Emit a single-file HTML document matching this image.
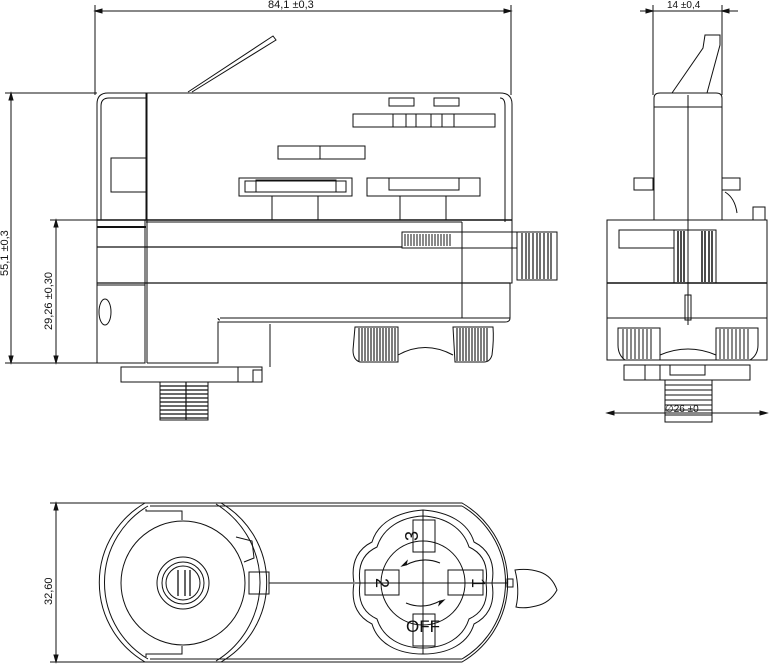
<!DOCTYPE html>
<html><head><meta charset="utf-8"><style>
html,body{margin:0;padding:0;background:#fff}
svg{display:block}
text{font-family:"Liberation Sans Narrow","Liberation Sans",sans-serif;fill:#111}
</style></head><body>
<svg width="770" height="666" viewBox="0 0 770 666" xmlns="http://www.w3.org/2000/svg">
<g fill="none" stroke="#111" stroke-width="1">
<!-- ===== FRONT VIEW ===== -->
<line x1="95" y1="5" x2="95" y2="95"/>
<line x1="511" y1="5" x2="511" y2="95"/>
<line x1="95" y1="11" x2="511" y2="11"/>
<path d="M95 11 l7 -2 v4z M511 11 l-7 -2 v4z" fill="#111"/>
<line x1="5" y1="93" x2="97" y2="93"/>
<line x1="5" y1="363" x2="100" y2="363"/>
<line x1="50" y1="220" x2="100" y2="220"/>
<line x1="11" y1="93" x2="11" y2="363"/>
<line x1="56" y1="220" x2="56" y2="363"/>
<path d="M11 93 l-2 7 h4z M11 363 l-2 -7 h4z M56 220 l-2 7 h4z M56 363 l-2 -7 h4z" fill="#111"/>
<path d="M188 92 L273 36 L276 40 L192 92"/>
<path d="M97 220 V104 Q97 93 108 93 H500 Q512 93 512 104 V225"/>
<path d="M101 220 V106 Q101 98 109 98 H146"/>
<path d="M505 106 V222 M500 98 Q505 98 505 106"/>
<line x1="146" y1="93" x2="146" y2="220"/>
<line x1="147" y1="93" x2="147" y2="220"/>
<rect x="111" y="158" width="35" height="34"/>
<rect x="389" y="98" width="25" height="8"/>
<rect x="434" y="98" width="25" height="8"/>
<rect x="353" y="114" width="142" height="13"/>
<path d="M393 114 V127 M406 114V127 M416 114V127 M431 114V127 M442 114V127 M454 114V127"/>
<rect x="278" y="146" width="87" height="13"/>
<line x1="320" y1="146" x2="320" y2="159"/>
<rect x="239" y="178" width="113" height="18"/>
<rect x="245" y="181" width="101" height="11"/>
<rect x="256" y="180" width="80" height="12"/>
<rect x="367" y="178" width="113" height="18"/>
<rect x="389" y="178" width="70" height="12"/>
<path d="M272 196 V220 M318 196 V220 M400 196 V220 M446 196 V220"/>
<line x1="97" y1="220" x2="512" y2="220" stroke-width="1.5"/>
<line x1="146" y1="222" x2="462" y2="222"/>
<line x1="97" y1="227" x2="146" y2="227" stroke-width="2"/>
<path d="M97 220 V363 H145 V220"/>
<line x1="147" y1="220" x2="147" y2="363"/>
<line x1="97" y1="247" x2="402" y2="247" stroke-width="1.2"/>
<line x1="97" y1="283" x2="510" y2="283" stroke-width="1.2"/>
<line x1="97" y1="285" x2="145" y2="285"/>
<path d="M462 222 V318"/>
<path d="M512 225 V283 H510 V318 Q510 322 505 322 H218 V363 H147"/>
<path d="M220 318 H510 M218 318 Q218 320 220 320"/>
<line x1="270" y1="324" x2="270" y2="367"/>
<ellipse cx="105" cy="312" rx="6" ry="13"/>
<rect x="402" y="232" width="115" height="16"/>
<path d="M405 234 v12 M408 234v12 M411 234v12 M414 234v12 M417 234v12 M420 234v12 M423 234v12 M426 234v12 M429 234v12 M432 234v12 M435 234v12 M438 234v12 M441 234v12 M444 234v12 M447 234v12 M450 234v12"/>
<rect x="517" y="232" width="40" height="48"/>
<path d="M522 233v46 M526 233v46 M529 233v46 M533 233v46 M537 233v46 M540 233v46 M544 233v46 M548 233v46 M551 233v46" stroke-width="1.2"/>
<path d="M355 327 H398 V362 H360 Q353 360 353 350 Z"/>
<path d="M453 327 H493 Q494 340 492 355 Q490 362 484 362 H455 Z"/>
<path d="M359 328v33 M362 328v33 M365 328v33 M368 328v33 M371 328v33 M374 328v33 M377 328v33 M380 328v33 M383 328v33 M386 328v33 M389 328v33 M392 328v33 M395 328v33 M457 328v33 M460 328v33 M463 328v33 M466 328v33 M469 328v33 M472 328v33 M475 328v33 M478 328v33 M481 328v33 M484 328v33 M487 328v33" stroke-width="1.1"/>
<path d="M398 355 Q425 340 453 355"/>
<rect x="121" y="367" width="141" height="15"/>
<rect x="238" y="367" width="24" height="15"/>
<rect x="253" y="370" width="9" height="12"/>
<path d="M160 382 H208 V420 H160 Z"/>
<path d="M160 386h48 M160 390h48 M160 394h48 M160 398h48 M160 402h48 M160 406h48 M160 410h48 M160 414h48 M160 418h48 M186 382 V420" stroke-width="1.2"/>
<!-- ===== SIDE VIEW ===== -->
<line x1="653" y1="5" x2="653" y2="95"/>
<line x1="722" y1="5" x2="722" y2="95"/>
<line x1="640" y1="11" x2="738" y2="11"/>
<path d="M653 11 l-7 -2 v4z M722 11 l7 -2 v4z" fill="#111"/>
<path d="M672 93 L703 48 L705 35 L720 35 L720 45 L707 93"/>
<path d="M654 220 V98 Q654 93 660 93 H716 Q722 93 722 98 V220"/>
<line x1="654" y1="107" x2="722" y2="107"/>
<line x1="688" y1="95" x2="688" y2="325"/>
<rect x="634" y="178" width="19" height="12"/>
<rect x="722" y="178" width="18" height="12"/>
<path d="M725 192 Q735 198 737 213"/>
<rect x="753" y="207" width="12" height="13"/>
<path d="M607 220 H767 V360 H607 Z"/>
<line x1="607" y1="283" x2="767" y2="283" stroke-width="1.5"/>
<line x1="607" y1="318" x2="767" y2="318"/>
<rect x="619" y="230" width="55" height="18"/>
<rect x="674" y="230" width="42" height="53"/>
<path d="M678 231v51 M681 231v51 M684 231v51 M702 231v51 M705 231v51 M709 231v51 M712 231v51" stroke-width="1.5"/>
<rect x="685" y="295" width="6" height="25"/>
<path d="M618 328 H660 V360 H625 Q618 355 618 345Z M716 328 H758 V345 Q758 355 750 360 H716Z"/>
<path d="M623 329v30 M627 329v30 M631 329v30 M635 329v30 M639 329v30 M643 329v30 M647 329v30 M651 329v30 M720 329v30 M724 329v30 M728 329v30 M732 329v30 M736 329v30 M740 329v30 M744 329v30 M748 329v30"/>
<path d="M660 355 Q688 343 716 355"/>
<rect x="624" y="365" width="126" height="15"/>
<rect x="645" y="365" width="15" height="15"/>
<path d="M670 365 V375 H705 V365"/>
<path d="M665 380 H712 V422 H665Z M665 385h47 M665 390h47 M665 395h47 M665 400h47 M665 405h47 M665 410h47 M665 415h47"/>
<line x1="607" y1="413" x2="767" y2="413"/>
<path d="M607 413 l7 -2 v4z M767 413 l-7 -2 v4z" fill="#111"/>
<!-- ===== BOTTOM VIEW ===== -->
<line x1="50" y1="503" x2="150" y2="503"/>
<line x1="50" y1="662" x2="150" y2="662"/>
<line x1="56" y1="503" x2="56" y2="662"/>
<path d="M56 503 l-2 7 h4z M56 662 l-2 -7 h4z" fill="#111"/>
<path d="M145 503 H462 A92 92 0 0 1 462 662 H145 A92 92 0 0 1 145 503 Z"/>
<path d="M150 506 H462 M150 659 H462"/>
<path d="M148 506 A89 89 0 0 0 148 659"/>
<path d="M221 503 A92 92 0 0 1 221 662"/>
<path d="M216 504 A92 92 0 0 1 216 661"/>
<path d="M462 506 A89 89 0 0 1 462 659"/>
<circle cx="183" cy="583" r="62"/>
<path d="M146 509 V511 H182 V520 M146 657 V654 H182 V646"/>
<path d="M236 537 L252 541 L254 558 L244 562"/>
<circle cx="183" cy="583" r="26"/>
<circle cx="183" cy="583" r="21"/>
<circle cx="183" cy="583" r="17"/>
<path d="M178 570 V596 M190 570 V596 M185 570 V596" stroke-width="1.3"/>
<rect x="249" y="572" width="20" height="22"/>
<line x1="269" y1="583" x2="353" y2="583"/>
<!-- knob -->
<path d="M354 583 C350 560 360 548 372 542 C378 522 398 512 423 510 C448 512 468 522 474 542 C486 548 496 560 492 583 C496 606 486 618 474 624 C468 644 448 654 423 654 C398 654 378 644 372 624 C360 618 350 606 354 583 Z"/>
<path d="M360 583 C357 562 366 552 377 547 C383 528 401 517 423 516 C445 517 463 528 469 547 C480 552 489 562 486 583 C489 604 480 614 469 619 C463 638 445 648 423 648 C401 648 383 638 377 619 C366 614 357 604 360 583 Z"/>
<circle cx="423" cy="583" r="42"/>
<line x1="423" y1="510" x2="423" y2="654"/>
<line x1="355" y1="583" x2="492" y2="583"/>
<rect x="413" y="520" width="22" height="32"/>
<rect x="413" y="614" width="22" height="32"/>
<rect x="365" y="570" width="34" height="25"/>
<rect x="448" y="570" width="35" height="25"/>
<line x1="492" y1="583" x2="507" y2="583"/>
<rect x="507" y="579" width="6" height="8"/>
<path d="M515 570 Q528 568 540 572 Q552 576 557 590 Q550 603 536 606 Q524 609 516 607 Q520 590 515 570Z"/>
<path d="M406 565 Q423 556 440 563 M440 601 Q423 610 406 603"/>
<path d="M406 565 l1 -4 l-5 5z M440 601 l-1 4 l5 -5z" fill="#111"/>
</g>
<text x="268" y="8" font-size="11">84,1  ±0,3</text>
<text x="667" y="8" font-size="10">14 ±0,4</text>
<text x="665" y="412" font-size="10" fill="#555">∅26 ±0</text>
<text transform="translate(8,276) rotate(-90)" font-size="11">55,1 ±0,3</text>
<text transform="translate(52,330) rotate(-90)" font-size="11">29,26 ±0,30</text>
<text transform="translate(52,605) rotate(-90)" font-size="11">32,60</text>
<text transform="translate(418,536) rotate(-90)" font-size="18" text-anchor="middle">3</text>
<text transform="translate(376,583) rotate(90)" font-size="18" text-anchor="middle">2</text>
<text transform="translate(472,583) rotate(90)" font-size="18" text-anchor="middle">1</text>
<text x="423" y="632" font-size="17" text-anchor="middle">OFF</text>
</svg>
</body></html>
